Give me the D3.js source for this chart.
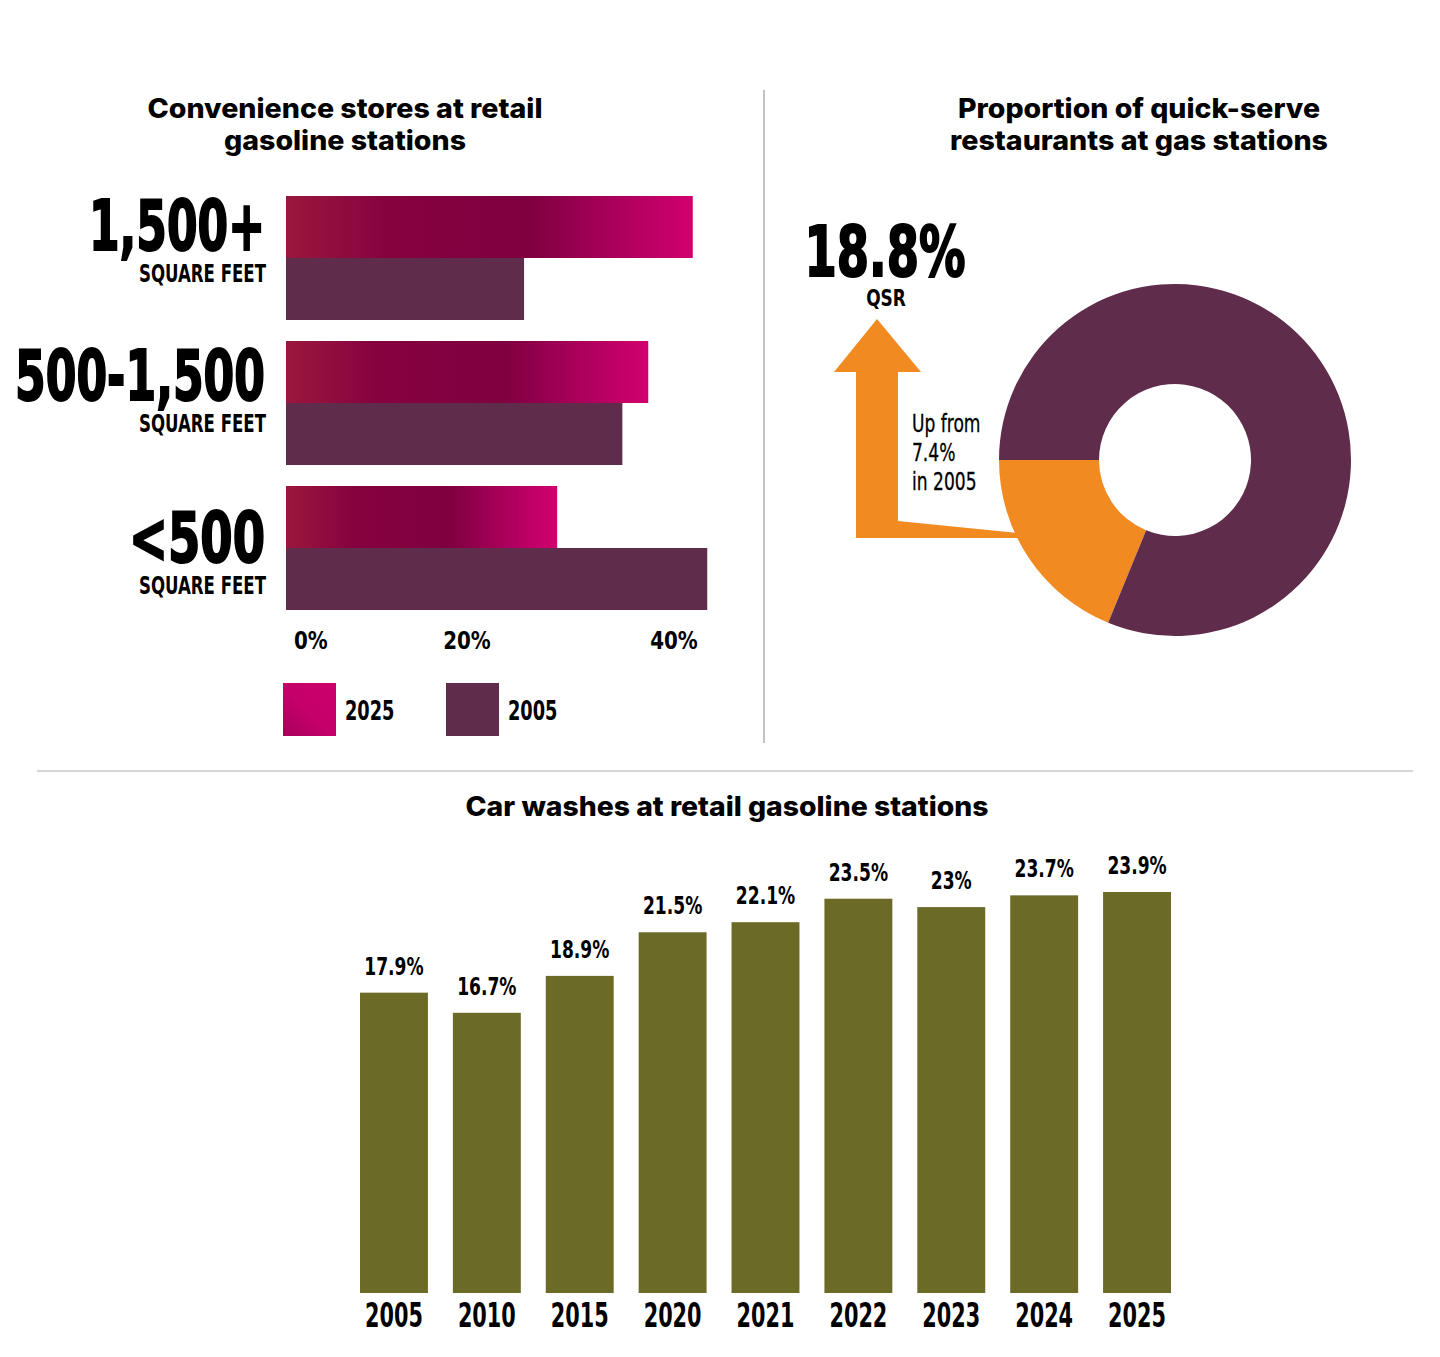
<!DOCTYPE html>
<html>
<head>
<meta charset="utf-8">
<script src="https://cdn.jsdelivr.net/npm/d3@7"></script>
<style>
  html, body { margin: 0; padding: 0; background: #fff; }
  svg { display: block; }
</style>
</head>
<body>
<div id="chart"></div>
<script>
// ---- data ----
var sizeCats = ["1,500+", "500-1,500", "<500"];
var sizeSub = "SQUARE FEET";
var share2025 = [39.3, 35.0, 26.2];
var share2005 = [23.0, 32.5, 40.7];
var shareTicks = [0, 20, 40];
var legendYears = ["2025", "2005"];

var qsrLabels = ["QSR", "Other"];
var qsrShare = [18.8, 81.2];
var qsr2005 = 7.4;

var washYears = ["2005", "2010", "2015", "2020", "2021", "2022", "2023", "2024", "2025"];
var washShare = [17.9, 16.7, 18.9, 21.5, 22.1, 23.5, 23.0, 23.7, 23.9];

// ---- setup ----
var W = 1440, H = 1357;
var condFont = "'Liberation Sans Narrow','DejaVu Sans Condensed',sans-serif";
var headFont = "Inter,'Open Sans',sans-serif";
var purple = "#5f2d4b", orange = "#f28a22", olive = "#6b6a27";

var svg = d3.select("#chart").append("svg")
    .attr("width", W).attr("height", H);

/*
 * Squeeze rendered text horizontally by factor k
 */
condense = function(sel, k) {
    sel.each(function() {
        var n = this.getComputedTextLength();
        d3.select(this).attr("textLength", n * k).attr("lengthAdjust", "spacingAndGlyphs");
    });
    return sel;
}

var defs = svg.append("defs");
var grad = defs.append("linearGradient").attr("id", "g25");
grad.selectAll("stop")
    .data([["0%", "#9b173d"], ["25%", "#86023f"], ["60%", "#7f0040"], ["80%", "#a9005a"], ["100%", "#d2006f"]])
  .enter().append("stop")
    .attr("offset", function(d) { return d[0]; })
    .attr("stop-color", function(d) { return d[1]; });
var gradLeg = defs.append("linearGradient").attr("id", "g25leg")
    .attr("x1", "0%").attr("y1", "100%").attr("x2", "100%").attr("y2", "0%");
gradLeg.append("stop").attr("offset", "0%").attr("stop-color", "#a8005a");
gradLeg.append("stop").attr("offset", "45%").attr("stop-color", "#c4006a");
gradLeg.append("stop").attr("offset", "100%").attr("stop-color", "#cc006c");

/*
 * heading text squeezed to a given width
 */
heading = function(lines, cx, y0, widths) {
    lines.forEach(function(t, i) {
        svg.append("text")
            .attr("x", cx).attr("y", y0 + i * 32)
            .attr("text-anchor", "middle")
            .attr("font-family", headFont).attr("font-weight", 800)
            .attr("font-size", 27)
            .attr("textLength", widths[i]).attr("lengthAdjust", "spacingAndGlyphs")
            .text(t);
    });
}

// dividers
svg.append("line").attr("x1", 764).attr("x2", 764).attr("y1", 90).attr("y2", 743)
    .attr("stroke", "#9a9a9a").attr("stroke-width", 1.2);
svg.append("line").attr("x1", 37).attr("x2", 1413).attr("y1", 771).attr("y2", 771)
    .attr("stroke", "#c8c8c8").attr("stroke-width", 1.5);

// ===== convenience stores (horizontal bars) =====
heading(["Convenience stores at retail", "gasoline stations"], 345, 118, [395, 242]);

var x = d3.scaleLinear().domain([0, 40]).range([286, 700]);
var y = d3.scaleBand().domain(sizeCats).range([196, 610]).paddingInner(21 / 145);
var half = y.bandwidth() / 2;

var rows = svg.append("g").selectAll("g")
    .data(sizeCats.map(function(c, i) { return {cat: c, v25: share2025[i], v05: share2005[i]}; }))
  .enter().append("g");

rows.append("rect")
    .attr("x", x(0)).attr("y", function(d) { return y(d.cat); })
    .attr("width", function(d) { return x(d.v25) - x(0); })
    .attr("height", half)
    .attr("fill", "url(#g25)");
rows.append("rect")
    .attr("x", x(0)).attr("y", function(d) { return y(d.cat) + half; })
    .attr("width", function(d) { return x(d.v05) - x(0); })
    .attr("height", half)
    .attr("fill", purple);

// label widths and how far each label sits below its band top
var bigW = {"1,500+": 178, "500-1,500": 252, "<500": 138};
var drop = {"1,500+": 0, "500-1,500": 5, "<500": 22};
rows.append("text")
    .attr("x", 265).attr("y", function(d) { return y(d.cat) + 54 + drop[d.cat]; })
    .attr("text-anchor", "end")
    .attr("font-family", condFont).attr("font-weight", "bold").attr("font-size", 70)
    .attr("stroke", "#000").attr("stroke-width", 2)
    .attr("textLength", function(d) { return bigW[d.cat] - 2; }).attr("lengthAdjust", "spacingAndGlyphs")
    .text(function(d) { return d.cat; });
rows.append("text")
    .attr("x", 266).attr("y", function(d) { return y(d.cat) + 86 + drop[d.cat]; })
    .attr("text-anchor", "end")
    .attr("font-family", condFont).attr("font-weight", "bold").attr("font-size", 25)
    .attr("textLength", 127).attr("lengthAdjust", "spacingAndGlyphs")
    .text(sizeSub);

// x tick labels
condense(svg.append("g").selectAll("text")
    .data(shareTicks)
  .enter().append("text")
    .attr("x", function(d, i) { return i == 0 ? x(d) + 8 : x(d) - 26; })
    .attr("y", 649)
    .attr("text-anchor", function(d, i) { return i == 0 ? "start" : "middle"; })
    .attr("font-family", condFont).attr("font-weight", "bold").attr("font-size", 24)
    .text(function(d) { return d + "%"; }), 0.92);

// legend
var leg = svg.append("g").selectAll("g")
    .data(legendYears)
  .enter().append("g")
    .attr("transform", function(d, i) { return "translate(" + (283 + i * 163) + ",683)"; });
leg.append("rect").attr("width", 53).attr("height", 53)
    .attr("fill", function(d, i) { return i == 0 ? "url(#g25leg)" : purple; });
condense(leg.append("text").attr("x", 62).attr("y", 37)
    .attr("font-family", condFont).attr("font-weight", "bold").attr("font-size", 26)
    .text(function(d) { return d; }), 0.76);

// ===== QSR donut =====
heading(["Proportion of quick-serve", "restaurants at gas stations"], 1139, 118, [362, 378]);

var cx = 1175, cy = 460, rOut = 176, rIn = 76;
var total = d3.sum(qsrShare);
// QSR slice ends at 9 o'clock, growing counter-clockwise from there
var start = 1.5 * Math.PI - 2 * Math.PI * qsrShare[0] / total;
var pie = d3.pie().sort(null).startAngle(start).endAngle(start + 2 * Math.PI);
var arc = d3.arc().innerRadius(rIn).outerRadius(rOut);
var slices = pie(qsrShare);

var donut = svg.append("g").attr("transform", "translate(" + cx + "," + cy + ")");
donut.selectAll("path")
    .data(slices)
  .enter().append("path")
    .attr("d", arc)
    .attr("fill", function(d, i) { return i == 0 ? orange : purple; });

// arrow from the QSR slice up to the label
var ay = 538, tipY = ay - 5;
var ex = cx - Math.sqrt(rOut * rOut - Math.pow(tipY - cy, 2)) + 4;
var sL = 856, sR = 898, headY = 372;
var ap = d3.path();
ap.moveTo(sL, ay);
ap.lineTo(ex, ay);
ap.lineTo(ex, ay - 5);
ap.lineTo(sR, ay - 17);
ap.lineTo(sR, headY);
ap.lineTo(921, headY);
ap.lineTo((sL + sR) / 2, 319);
ap.lineTo(834, headY);
ap.lineTo(sL, headY);
ap.closePath();
svg.append("path").attr("d", ap.toString()).attr("fill", orange);

svg.append("text").attr("x", 885).attr("y", 276)
    .attr("text-anchor", "middle")
    .attr("font-family", condFont).attr("font-weight", "bold").attr("font-size", 70)
    .attr("stroke", "#000").attr("stroke-width", 2)
    .attr("textLength", 161).attr("lengthAdjust", "spacingAndGlyphs")
    .text(d3.format(".1f")(qsrShare[0]) + "%");
condense(svg.append("text").attr("x", 886).attr("y", 306)
    .attr("text-anchor", "middle")
    .attr("font-family", condFont).attr("font-weight", "bold").attr("font-size", 23)
    .text(qsrLabels[0]), 0.82);
["Up from", qsr2005 + "%", "in 2005"].forEach(function(t, i) {
    condense(svg.append("text").attr("x", 912).attr("y", 432 + i * 29)
        .attr("font-family", condFont).attr("font-size", 25)
        .attr("stroke", "#000").attr("stroke-width", 0.3)
        .text(t), 0.76);
});

// ===== car washes (vertical bars) =====
heading(["Car washes at retail gasoline stations"], 727, 816, [523]);

var bx = d3.scaleBand().domain(washYears).range([360, 1171]).paddingInner(25 / 93);
var by = d3.scaleLinear().domain([0, 23.9]).range([1293, 892]);

var cols = svg.append("g").selectAll("g")
    .data(washYears.map(function(yr, i) { return {yr: yr, v: washShare[i]}; }))
  .enter().append("g");

cols.append("rect")
    .attr("x", function(d) { return bx(d.yr); })
    .attr("y", function(d) { return by(d.v); })
    .attr("width", bx.bandwidth())
    .attr("height", function(d) { return by(0) - by(d.v); })
    .attr("fill", olive);
condense(cols.append("text")
    .attr("x", function(d) { return bx(d.yr) + bx.bandwidth() / 2; })
    .attr("y", function(d) { return by(d.v) - 18; })
    .attr("text-anchor", "middle")
    .attr("font-family", condFont).attr("font-weight", "bold").attr("font-size", 25)
    .text(function(d) { return d3.format("~g")(d.v) + "%"; }), 0.76);
condense(cols.append("text")
    .attr("x", function(d) { return bx(d.yr) + bx.bandwidth() / 2; })
    .attr("y", 1327)
    .attr("text-anchor", "middle")
    .attr("font-family", condFont).attr("font-weight", "bold").attr("font-size", 34)
    .text(function(d) { return d.yr; }), 0.68);
</script>
</body>
</html>
